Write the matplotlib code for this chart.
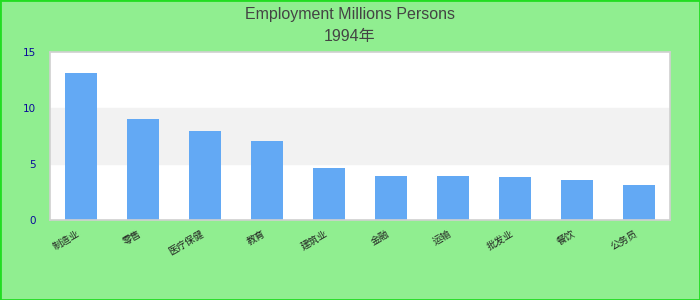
import matplotlib
matplotlib.use("Agg")
import matplotlib.pyplot as plt
from matplotlib.patches import Rectangle

title = "Employment Millions Persons"
subtitle = "1994年"
categories = ["制造业", "零售", "医疗保健", "教育", "建筑业", "金融", "运输", "批发业", "餐饮", "公务员"]
values = [13.1, 9.0, 7.95, 7.05, 4.64, 3.93, 3.93, 3.84, 3.57, 3.13]
yticks = [0, 5, 10, 15]

plt.rcParams['font.family'] = ['Liberation Sans', 'Noto Sans CJK SC', 'DejaVu Sans']

fig = plt.figure(figsize=(7, 3), dpi=100, facecolor='#90EE90')
fig.patches.append(Rectangle((0, 0), 1, 1, transform=fig.transFigure, fill=False,
                             edgecolor='#22dd22', linewidth=2))
ax = fig.add_axes([50/700, 80/300, 620/700, 168/300])
ax.set_facecolor('white')
ax.set_xlim(-0.5, len(categories) - 0.5)
ax.set_ylim(0, 15)
ax.axhspan(5, 10, color='#F2F2F2', zorder=0)
x = list(range(len(categories)))
ax.bar(x, values, width=0.516, color='#63A9F4', zorder=2)
ax.set_yticks(yticks)
ax.set_yticklabels([str(t) for t in yticks], color='#0a0a9a', fontsize=7.5,
                   family='DejaVu Sans')
ax.set_xticks(x)
ax.set_xticklabels(categories, rotation=30, ha='right', fontsize=7, color='#222222',
                   family=['Noto Sans CJK SC', 'DejaVu Sans'])
ax.tick_params(axis='y', length=0, pad=10)
ax.tick_params(axis='x', length=0, pad=6)
for s in ax.spines.values():
    s.set_color('#d0d0d0')
    s.set_linewidth(1.2)

fig.text(0.5, 1 - 14/300, title, ha='center', va='center', fontsize=11.5, color='#444444')
fig.text(0.5, 1 - 37/300, subtitle, ha='center', va='center', fontsize=11.5, color='#444444',
         family=['Liberation Sans', 'Noto Sans CJK SC'])

fig.savefig('out.png', dpi=100, facecolor=fig.get_facecolor())
